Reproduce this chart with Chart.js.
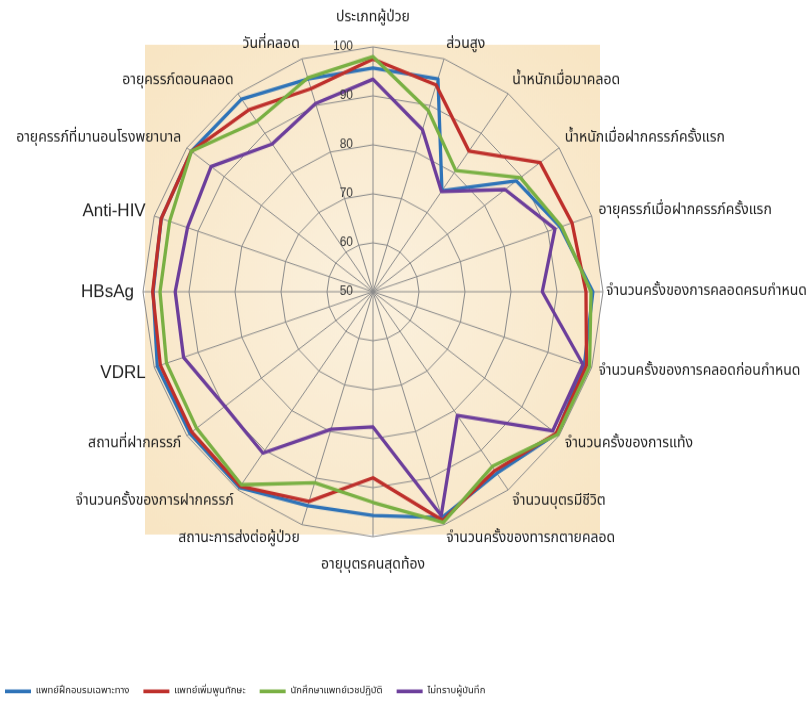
<!DOCTYPE html>
<html>
<head>
<meta charset="utf-8">
<script src="https://cdn.jsdelivr.net/npm/chart.js@4.4.1/dist/chart.umd.min.js"></script>
<style>
  html { overflow: hidden; }
  body { margin: 0; padding: 0; background: #ffffff; height: 707px; }
  #wrap { width: 812px; height: 664px; transform: scaleY(1.0648); transform-origin: 0 0; }
</style>
</head>
<body>
<div id="wrap"><canvas id="c" width="812" height="664"></canvas></div>
<script>
// Record fields shown on each spoke (clockwise from the top)
const categories = [
  'ประเภทผู้ป่วย', 'ส่วนสูง', 'น้ำหนักเมื่อมาคลอด', 'น้ำหนักเมื่อฝากครรภ์ครั้งแรก',
  'อายุครรภ์เมื่อฝากครรภ์ครั้งแรก', 'จำนวนครั้งของการคลอดครบกำหนด', 'จำนวนครั้งของการคลอดก่อนกำหนด',
  'จำนวนครั้งของการแท้ง', 'จำนวนบุตรมีชีวิต', 'จำนวนครั้งของทารกตายคลอด', 'อายุบุตรคนสุดท้อง',
  'สถานะการส่งต่อผู้ป่วย', 'จำนวนครั้งของการฝากครรภ์', 'สถานที่ฝากครรภ์', 'VDRL', 'HBsAg',
  'Anti-HIV', 'อายุครรภ์ที่มานอนโรงพยาบาล', 'อายุครรภ์ตอนคลอด', 'วันที่คลอด'
];

// Completeness (%) per recorder group
const residents = [95.7, 95.7, 75.5, 88.5, 92.8, 97.8, 98.3, 99.3, 95.8, 98.5, 95.7, 95.9, 99.4, 99.2, 99.3, 97.8, 98.4, 98.8, 98.6, 95.7];
const interns   = [97.5, 94.4, 85.5, 94.9, 95.5, 96.3, 98.8, 99.2, 95.1, 99.1, 88.0, 95.0, 99.1, 98.7, 98.6, 97.9, 98.4, 98.8, 95.9, 93.6];
const students  = [98.0, 88.9, 80.6, 89.6, 93.1, 97.4, 99.5, 99.6, 94.1, 99.5, 93.0, 91.0, 98.7, 97.4, 97.2, 96.3, 96.5, 98.8, 93.0, 95.9];
const unknown   = [93.4, 84.8, 75.3, 85.5, 91.6, 86.8, 98.0, 98.3, 81.2, 98.0, 77.6, 79.5, 90.7, 89.8, 93.3, 93.0, 92.4, 93.5, 87.3, 90.4];

const seriesNames = ['แพทย์ฝึกอบรมเฉพาะทาง', 'แพทย์เพิ่มพูนทักษะ', 'นักศึกษาแพทย์เวชปฏิบัติ', 'ไม่ทราบผู้บันทึก'];
const tickValues = [50, 60, 70, 80, 90, 100];

const THAI = '"Noto Sans Thai", Tahoma, Loma, Garuda, "Liberation Sans", sans-serif';
const LATIN = '"Liberation Sans", Arial, sans-serif';
const colors = ['#2E73B8', '#BE2F2B', '#79B043', '#6C3E9B'];

Chart.defaults.font.family = THAI;

// Places the radar, paints the parchment panel, and writes the tick and spoke labels
const radarFrame = {
  id: 'radarFrame',
  afterLayout(chart) {
    const r = chart.scales.r;
    r.xCenter = 373;
    r.yCenter = 274;
    r.drawingArea = 230;
  },
  beforeDraw(chart) {
    const { ctx } = chart;
    const r = chart.scales.r;
    const R = r.drawingArea;
    const x0 = r.xCenter - R + 2, y0 = r.yCenter - R - 2, w = 2 * R - 5, h = 2 * R;
    ctx.save();
    const g = ctx.createRadialGradient(r.xCenter, r.yCenter, 20, r.xCenter, r.yCenter, R * 1.4);
    g.addColorStop(0, '#FBF0DC');
    g.addColorStop(1, '#F8E5C3');
    ctx.fillStyle = g;
    ctx.fillRect(x0, y0, w, h);
    ctx.restore();
  },
  afterDraw(chart) {
    const { ctx } = chart;
    const r = chart.scales.r;
    ctx.save();
    ctx.textBaseline = 'middle';

    // value ticks, to the left of the vertical spoke
    ctx.font = '12px ' + LATIN;
    ctx.fillStyle = '#3a3a3a';
    ctx.textAlign = 'right';
    tickValues.forEach(v => {
      const y = r.yCenter - r.getDistanceFromCenterForValue(v);
      ctx.fillText(String(v), r.xCenter - 20, y);
    });

    // spoke labels
    ctx.fillStyle = '#222222';
    categories.forEach((label, i) => {
      const latin = /^[A-Za-z-]+$/.test(label);
      const a = r.getIndexAngle(i);
      const s = Math.sin(a), c = Math.cos(a);
      const onAxis = Math.abs(s) < 0.01;
      const side = Math.abs(s) > 0.99 ? 3 : 7;
      const pos = r.getPointPosition(i, r.drawingArea + (latin ? 9 : side));
      const y = pos.y - c * (onAxis ? 20 : 7);
      ctx.textAlign = onAxis ? 'center' : (s > 0 ? 'left' : 'right');
      ctx.font = latin ? ('17px ' + LATIN) : ('14px ' + THAI);
      ctx.fillText(label, pos.x, y);
    });
    ctx.restore();
  }
};

const seriesData = [residents, interns, students, unknown];

new Chart(document.getElementById('c'), {
  type: 'radar',
  data: {
    labels: categories,
    datasets: seriesData.map((d, k) => ({
      label: seriesNames[k],
      data: d,
      borderColor: colors[k],
      backgroundColor: colors[k],
      borderWidth: 3.3,
      borderJoinStyle: 'round',
      borderCapStyle: 'round',
      pointRadius: 0,
      pointHoverRadius: 0,
      fill: false,
      tension: 0,
      clip: false,
      order: seriesData.length - k
    }))
  },
  options: {
    responsive: false,
    animation: false,
    events: [],
    layout: { padding: { left: -9, right: 0, top: 0, bottom: 0 } },
    scales: {
      r: {
        min: tickValues[0],
        max: tickValues[tickValues.length - 1],
        ticks: { display: false, stepSize: 10 },
        grid: { circular: false, color: '#8c8c8c', lineWidth: 1 },
        angleLines: { display: true, color: '#8c8c8c', lineWidth: 1 },
        pointLabels: { display: false }
      }
    },
    plugins: {
      tooltip: { enabled: false },
      legend: {
        display: true,
        position: 'bottom',
        align: 'start',
        labels: {
          usePointStyle: true,
          pointStyle: 'line',
          pointStyleWidth: 26,
          padding: 14,
          color: '#222222',
          font: { family: THAI, size: 9.5 },
          sort: (a, b) => a.datasetIndex - b.datasetIndex
        }
      }
    }
  },
  plugins: [radarFrame]
});
</script>
</body>
</html>
